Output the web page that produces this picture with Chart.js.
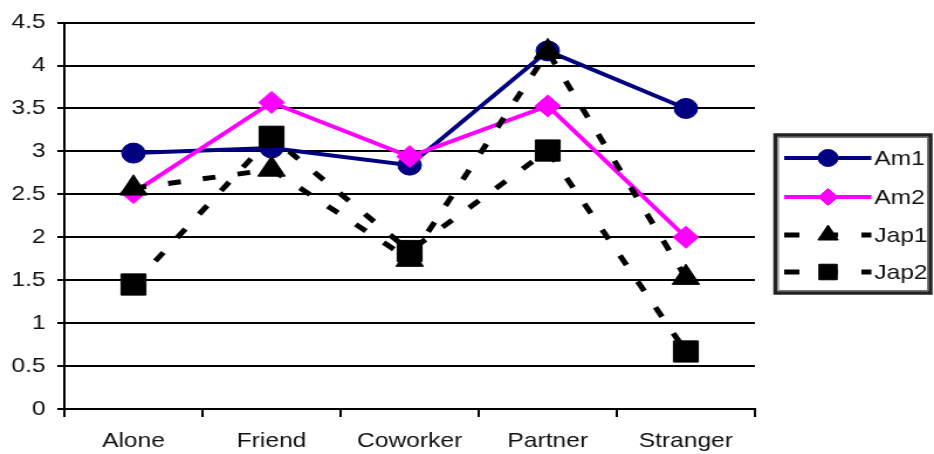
<!DOCTYPE html>
<html>
<head>
<meta charset="utf-8">
<script src="https://cdn.jsdelivr.net/npm/chart.js@4/dist/chart.umd.min.js"></script>
<style>
  html, body { margin: 0; padding: 0; background: #fff; overflow: hidden; }
  #wrap { width: 934px; height: 454px; overflow: hidden; }
  /* the chart is laid out on a narrower canvas and widened to the page */
  #c { transform: scaleX(1.1704); transform-origin: 0 0; display: block; }
</style>
</head>
<body>
<div id="wrap"><canvas id="c" width="798" height="454"></canvas></div>
<script>
// Relationship categories on the x axis
const categories = ['Alone', 'Friend', 'Coworker', 'Partner', 'Stranger'];

// Mean scores per group
const am1  = [2.98, 3.04, 2.84, 4.17, 3.50];
const am2  = [2.52, 3.57, 2.94, 3.53, 2.00];
const jap1 = [2.57, 2.79, 1.74, 4.16, 1.53];
const jap2 = [1.45, 3.17, 1.84, 3.01, 0.67];

// Value axis ticks and their labels
const yTicks = [0, 0.5, 1, 1.5, 2, 2.5, 3, 3.5, 4, 4.5];
const yTickLabels = ['0', '0.5', '1', '1.5', '2', '2.5', '3', '3.5', '4', '4.5'];

const seriesNames = ['Am1', 'Am2', 'Jap1', 'Jap2'];

const FONT = "'Liberation Sans', Arial, sans-serif";
const NAVY = '#000080';
const MAGENTA = '#FF00FF';
const BLACK = '#000000';

const datasets = [
  {
    label: seriesNames[0], data: am1, order: 4,
    borderColor: NAVY, backgroundColor: NAVY, borderWidth: 4,
    pointStyle: 'circle', pointRadius: 10, pointBorderWidth: 1,
    pointBackgroundColor: NAVY, pointBorderColor: NAVY
  },
  {
    label: seriesNames[1], data: am2, order: 3,
    borderColor: MAGENTA, backgroundColor: MAGENTA, borderWidth: 4,
    pointStyle: 'rectRot', pointRadius: 11, pointBorderWidth: 1,
    pointBackgroundColor: MAGENTA, pointBorderColor: MAGENTA
  },
  {
    label: seriesNames[2], data: jap1, order: 2,
    borderColor: BLACK, backgroundColor: BLACK, borderWidth: 5, borderDash: [11, 19],
    pointStyle: 'triangle', pointRadius: 13.5, pointBorderWidth: 1,
    pointBackgroundColor: BLACK, pointBorderColor: BLACK
  },
  {
    label: seriesNames[3], data: jap2, order: 1,
    borderColor: BLACK, backgroundColor: BLACK, borderWidth: 5, borderDash: [11, 19],
    pointStyle: 'rect', pointRadius: 15, pointBorderWidth: 1,
    pointBackgroundColor: BLACK, pointBorderColor: BLACK
  }
];

// Boxed legend to the right of the plot
const boxLegend = {
  id: 'boxLegend',
  afterDraw(chart) {
    const ctx = chart.ctx;
    const box = { x: 662.5, y: 135, w: 132.5, h: 158 };
    ctx.save();
    ctx.lineWidth = 3.5;
    ctx.strokeStyle = '#222';
    ctx.strokeRect(box.x, box.y, box.w, box.h);
    ctx.lineWidth = 1;
    ctx.strokeStyle = '#777';
    ctx.strokeRect(box.x + 2.5, box.y + 2.5, box.w - 5, box.h - 5);

    const rows = [158, 197, 235, 272];
    const x0 = 670, x1 = 744.5, xm = 707.5, xt = 747;
    chart.data.datasets.forEach((ds, i) => {
      const y = rows[i];
      ctx.save();
      ctx.strokeStyle = ds.borderColor;
      ctx.lineWidth = ds.borderWidth;
      ctx.setLineDash(ds.borderDash ? [13, 20] : []);
      ctx.beginPath();
      ctx.moveTo(x0, y);
      ctx.lineTo(x1, y);
      ctx.stroke();
      ctx.restore();

      ctx.save();
      ctx.fillStyle = ds.pointBackgroundColor;
      ctx.strokeStyle = ds.pointBorderColor;
      const r = ds.pointStyle === 'rect' ? 11 : (ds.pointStyle === 'triangle' ? 10 : 8.5);
      Chart.helpers.drawPoint(ctx, {
        pointStyle: ds.pointStyle, radius: r, rotation: 0, borderWidth: 1
      }, xm, y);
      ctx.restore();

      ctx.fillStyle = '#111';
      ctx.font = '21px ' + FONT;
      ctx.textAlign = 'left';
      ctx.textBaseline = 'middle';
      ctx.fillText(ds.label, xt, y + 1);
    });
    ctx.restore();
  }
};

new Chart(document.getElementById('c'), {
  type: 'line',
  data: { labels: categories, datasets: datasets },
  options: {
    responsive: false,
    animation: false,
    events: [],
    clip: false,
    layout: { padding: { top: 20, right: 153, bottom: 0, left: 0 } },
    plugins: {
      legend: { display: false },
      tooltip: { enabled: false }
    },
    elements: { line: { tension: 0, borderCapStyle: 'butt' } },
    scales: {
      x: {
        offset: true,
        grid: {
          offset: true,
          drawOnChartArea: true,
          lineWidth: 2,
          color: (c) => (c.index === 0 || c.index === categories.length) ? BLACK : 'rgba(0,0,0,0)',
          tickColor: BLACK,
          tickLength: 8
        },
        border: { display: true, color: BLACK, width: 2 },
        ticks: {
          color: '#111',
          font: { family: FONT, size: 21 },
          padding: 12,
          maxRotation: 0,
          autoSkip: false
        },
        afterFit(scale) { scale.height = 45; }
      },
      y: {
        min: 0,
        max: 4.5,
        afterBuildTicks(scale) { scale.ticks = yTicks.map(v => ({ value: v })); },
        grid: {
          color: BLACK,
          lineWidth: 2,
          tickColor: BLACK,
          tickLength: 6
        },
        border: { display: true, color: BLACK, width: 2 },
        ticks: {
          color: '#111',
          font: { family: FONT, size: 21 },
          padding: 10,
          callback: (value, index) => yTickLabels[index]
        },
        afterFit(scale) { scale.width = 55; }
      }
    }
  },
  plugins: [boxLegend]
});
</script>
</body>
</html>
